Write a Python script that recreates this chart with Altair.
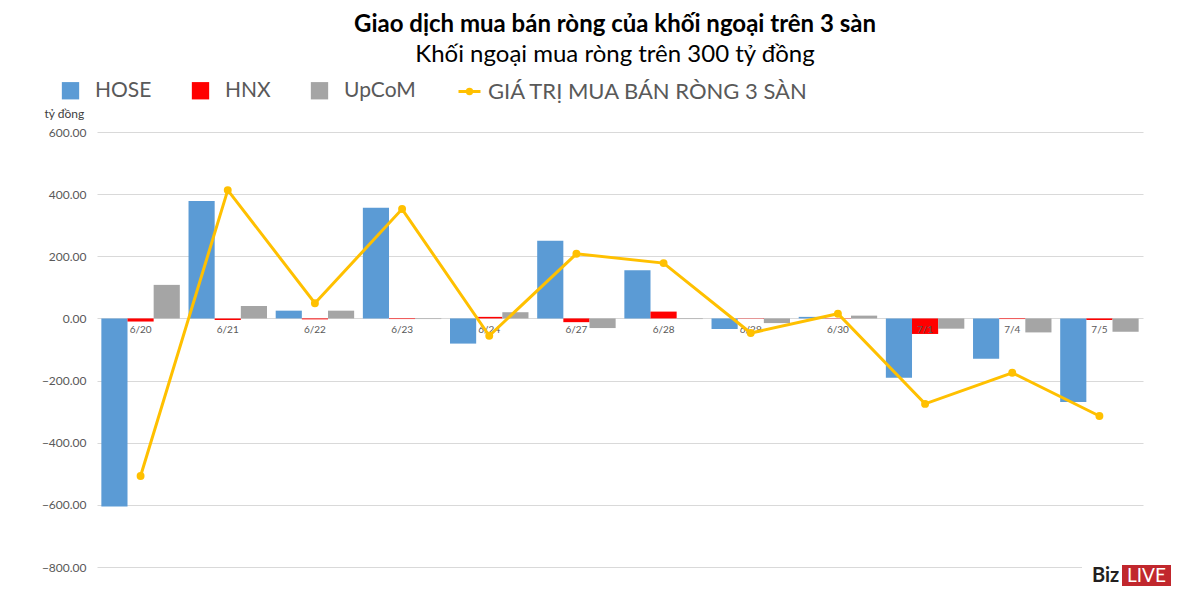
import altair as alt
import pandas as pd

# ---- data ----
dates = ["6/20", "6/21", "6/22", "6/23", "6/24", "6/27", "6/28", "6/29", "6/30", "7/1", "7/4", "7/5"]
hose = [-605, 378, 25, 356, -81, 250, 155, -34, 5, -191, -130, -269]
hnx = [-10, -5, -3, -2, 5, -12, 22, 1, -1, -50, -2, -5]
upcom = [108, 40, 25, -2, 20, -31, -2, -15, 9, -33, -45, -43]
total = [-507, 413, 49, 352, -56, 208, 178, -47, 15, -275, -175, -314]

series = ["HOSE", "HNX", "UpCoM"]
series_colors = ["#5B9BD5", "#FF0000", "#A5A5A5"]
line_name = "GIÁ TRỊ MUA BÁN RÒNG 3 SÀN"
line_color = "#FFC000"
y_ticks = [-800, -600, -400, -200, 0, 200, 400, 600]

title_text = "Giao dịch mua bán ròng của khối ngoại trên 3 sàn"
subtitle_text = "Khối ngoại mua ròng trên 300 tỷ đồng"
unit_text = "tỷ đồng"

FONT = "Lato"
GREY = "#595959"

rows = []
for s, vals in zip(series, [hose, hnx, upcom]):
    for d, v in zip(dates, vals):
        rows.append({"date": d, "series": s, "value": v})
bars_df = pd.DataFrame(rows)
line_df = pd.DataFrame({"date": dates, "total": total, "name": [line_name] * len(dates)})
lab_df = pd.DataFrame({"date": dates})

x_enc = alt.X("date:N", sort=dates,
              scale=alt.Scale(paddingInner=0.1, paddingOuter=0.05), axis=None)
y_scale = alt.Scale(domain=[-800, 600], nice=False, zero=False)

bars = alt.Chart(bars_df).mark_bar().encode(
    x=x_enc,
    xOffset=alt.XOffset("series:N", sort=series,
                        scale=alt.Scale(domain=series, paddingInner=0, paddingOuter=0)),
    y=alt.Y("value:Q", scale=y_scale,
            axis=alt.Axis(values=y_ticks, format=".2f", labelFont=FONT, labelFontSize=12,
                          labelColor=GREY, domain=False, ticks=False, grid=True,
                          gridColor="#D9D9D9", gridWidth=1, labelPadding=11,
                          title=unit_text, titleAngle=0, titleX=-53, titleY=-19,
                          titleAlign="left", titleBaseline="middle", titleFontWeight="normal",
                          titleFontSize=12, titleColor="#404040", titleFont=FONT)),
    color=alt.Color("series:N", sort=series,
                    scale=alt.Scale(domain=series, range=series_colors),
                    legend=alt.Legend(orient="none", legendX=-37, legendY=-52,
                                      direction="horizontal", title=None,
                                      symbolType="square", symbolSize=300,
                                      symbolStrokeWidth=0, labelLimit=0,
                                      labelFontSize=21, labelFont=FONT, labelColor=GREY,
                                      labelOffset=14, columnPadding=38)),
)

labels = alt.Chart(lab_df).mark_text(dy=12, fontSize=10, color=GREY, font=FONT).encode(
    x=x_enc,
    y=alt.datum(0),
    text="date:N",
)

line = alt.Chart(line_df).mark_line(
    strokeWidth=3,
    point=alt.OverlayMarkDef(filled=True, size=35, color=line_color),
).encode(
    x=x_enc,
    y=alt.Y("total:Q", scale=y_scale),
    stroke=alt.Stroke("name:N", scale=alt.Scale(domain=[line_name], range=[line_color]),
                      legend=alt.Legend(orient="none", legendX=360, legendY=-53, title=None,
                                        symbolType="M-1,0L1,0M-0.2,0A0.2,0.2 0 1,1 0.2,0A0.2,0.2 0 1,1 -0.2,0Z",
                                        symbolSize=484, symbolStrokeWidth=3,
                                        symbolFillColor=line_color, labelLimit=0,
                                        labelFontSize=22, labelFont=FONT, labelColor=GREY,
                                        labelOffset=6)),
)

# BizLIVE logo (decoration)
logo_df = pd.DataFrame({"a": [1]})
logo_bg = alt.Chart(logo_df).mark_rect(color="white").encode(
    x=alt.value(985), x2=alt.value(1076), y=alt.value(429), y2=alt.value(456))
logo_red = alt.Chart(logo_df).mark_rect(color="#C1272D").encode(
    x=alt.value(1025), x2=alt.value(1074), y=alt.value(433), y2=alt.value(454))
logo_biz = alt.Chart(logo_df).mark_text(text="Biz", font=FONT, fontWeight="bold", fontSize=20,
                                        color="#231F20", align="left", baseline="middle").encode(
    x=alt.value(995), y=alt.value(444))
logo_live = alt.Chart(logo_df).mark_text(text="LIVE", font=FONT, fontSize=19, color="white",
                                         align="center", baseline="middle").encode(
    x=alt.value(1049.5), y=alt.value(444))

chart = alt.layer(bars, labels, line, logo_bg, logo_red, logo_biz, logo_live).resolve_scale(
    color="independent"
).properties(
    width=1046,
    height=435,
    padding={"left": 89, "top": 124, "right": 40, "bottom": 20},
    autosize=alt.AutoSizeParams(type="none"),
    title=alt.TitleParams(text=title_text, subtitle=subtitle_text, anchor="middle",
                          font=FONT, fontSize=24, fontWeight="bold", color="black",
                          subtitleFont=FONT, subtitleFontSize=24, subtitleColor="black",
                          subtitlePadding=6, offset=12, dx=-5),
).configure(background="white", view=alt.ViewConfig(stroke=None))

chart.save("out.html", embed_options={"renderer": "svg", "actions": False})
